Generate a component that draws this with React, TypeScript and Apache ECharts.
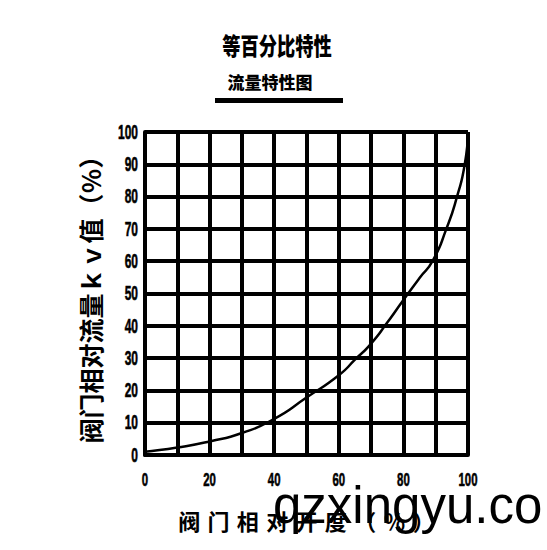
import { useEffect, useRef } from 'react'
import * as echarts from 'echarts'

// valve opening (%) and relative flow kv (%)
const openings = [0, 10, 20, 30, 40, 50, 60, 65, 70, 75, 80, 85, 89, 93.3, 96.6, 99, 100]
const flows = [1, 2.3, 4.2, 6.8, 11.2, 17.8, 24.7, 29.5, 34.5, 41, 48, 54.8, 60, 70, 80, 90, 100]

const xTickLabels = [0, 20, 40, 60, 80, 100]
const yTickLabels = [0, 10, 20, 30, 40, 50, 60, 70, 80, 90, 100]

const titleText = '等百分比特性'
const subTitleText = '流量特性图'
const xName = '阀\u2004门\u2004相\u2004对\u2004开\u2004度\u2004（\u2004％\u2004）'
const yName = '阀门相对流量ｋｖ值（％）'
const watermark = 'qzxingyu.co'

const NUM_FONT = '"Liberation Sans", Arial, sans-serif'
const CJK = '"Noto Sans CJK SC", sans-serif'

export default function App() {
  const chartRef = useRef<HTMLDivElement>(null)

  useEffect(() => {
    if (!chartRef.current) return
    const chart = echarts.init(chartRef.current, null, { renderer: 'svg' })

    const option: echarts.EChartsOption = {
      animation: false,
      backgroundColor: '#fff',
      grid: { left: 145, right: 79, top: 132, bottom: 95 },
      xAxis: {
        type: 'value',
        min: 0,
        max: 100,
        interval: 10,
        name: xName,
        nameLocation: 'middle',
        nameGap: 54,
        nameTextStyle: { fontFamily: CJK, fontSize: 22, fontWeight: 'bold', color: '#000' },
        axisLine: { show: true, lineStyle: { color: '#000', width: 4 } },
        axisTick: { show: false },
        axisLabel: { show: false },
        splitLine: { show: true, lineStyle: { color: '#000', width: 4 } },
      },
      yAxis: {
        type: 'value',
        min: 0,
        max: 100,
        interval: 10,
        name: yName,
        nameLocation: 'middle',
        nameGap: 43,
        nameTextStyle: { fontFamily: CJK, fontSize: 25, fontWeight: 'bold', color: '#000' },
        axisLine: { show: true, lineStyle: { color: '#000', width: 4 } },
        axisTick: { show: false },
        axisLabel: { show: false },
        splitLine: { show: true, lineStyle: { color: '#000', width: 4 } },
      },
      series: [
        {
          type: 'line',
          data: openings.map((x, i) => [x, flows[i]]),
          smooth: 0.6,
          showSymbol: false,
          lineStyle: { color: '#000', width: 2.5 },
          z: 5,
        },
      ],
    }

    chart.setOption(option)

    // condensed tick labels, placed through the axis scales
    const xLabels = xTickLabels.map((v) => {
      const [px, py] = chart.convertToPixel({ gridIndex: 0 }, [v, 0]) as number[]
      return {
        type: 'text',
        x: px,
        y: py + 24,
        scaleX: 0.6,
        style: {
          text: String(v),
          fontFamily: NUM_FONT,
          fontWeight: 'bold',
          fontSize: 19,
          fill: '#000',
          stroke: '#000',
          lineWidth: 0.6,
          align: 'center',
          verticalAlign: 'middle',
        },
      }
    })
    const yLabels = yTickLabels.map((v) => {
      const [px, py] = chart.convertToPixel({ gridIndex: 0 }, [0, v]) as number[]
      return {
        type: 'text',
        x: px - 7,
        y: py,
        scaleX: 0.57,
        style: {
          text: String(v),
          fontFamily: NUM_FONT,
          fontWeight: 'bold',
          fontSize: 21,
          fill: '#000',
          stroke: '#000',
          lineWidth: 0.6,
          align: 'right',
          verticalAlign: 'middle',
        },
      }
    })

    chart.setOption({
      graphic: [
        {
          type: 'text',
          x: 277,
          y: 44,
          scaleX: 0.76,
          style: {
            text: titleText,
            fontFamily: CJK,
            fontSize: 24,
            fontWeight: 900,
            fill: '#000',
            align: 'center',
            verticalAlign: 'middle',
          },
        },
        {
          type: 'text',
          x: 270,
          y: 81,
          style: {
            text: subTitleText,
            fontFamily: CJK,
            fontSize: 17,
            fontWeight: 900,
            fill: '#000',
            align: 'center',
            verticalAlign: 'middle',
          },
        },
        {
          type: 'rect',
          shape: { x: 215, y: 98, width: 128, height: 5 },
          style: { fill: '#000' },
        },
        ...xLabels,
        ...yLabels,
        {
          type: 'text',
          x: 273,
          y: 505,
          z: 100,
          style: {
            text: watermark,
            fontFamily: NUM_FONT,
            fontSize: 51,
            fill: '#000',
            align: 'left',
            verticalAlign: 'middle',
          },
        },
      ],
    })

    return () => {
      chart.dispose()
    }
  }, [])

  return (
    <div
      ref={chartRef}
      style={{ position: 'fixed', left: 0, top: 0, width: '547px', height: '550px' }}
    />
  )
}
